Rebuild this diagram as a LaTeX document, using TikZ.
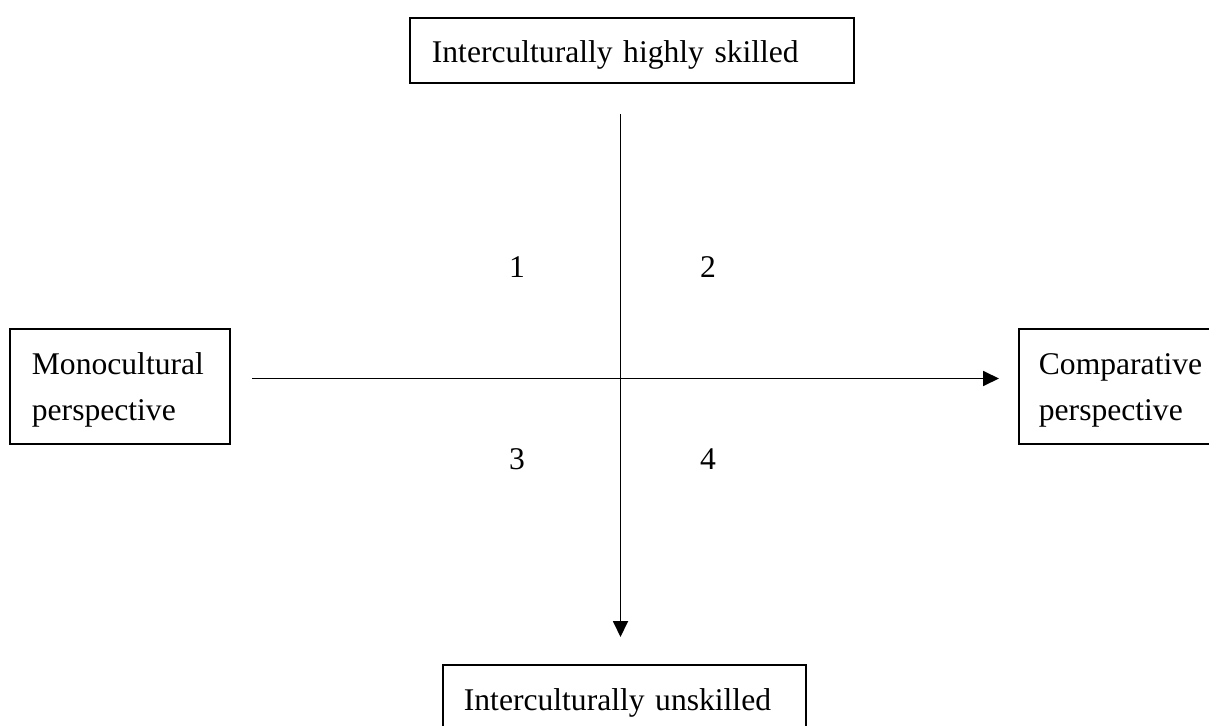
\documentclass[tikz,border=0pt]{standalone}
\usepackage{fontspec}
\setmainfont{Liberation Serif}
\usetikzlibrary{arrows.meta}
\begin{document}
\begin{tikzpicture}[x=1pt,y=-1pt,
  every node/.style={font=\fontsize{31.6}{46}\selectfont},
  onebox/.style={draw,line width=1.8pt,anchor=north west,inner ysep=0pt,align=left},
  twobox/.style={draw,line width=1.8pt,anchor=north west,align=left,minimum height=115pt},
  axis/.style={line width=1.8pt,-{Triangle[length=16pt,width=15pt]}},
  num/.style={anchor=base,inner sep=0pt}]
\useasboundingbox (0,0) rectangle (1209,725);
\clip (0,0) rectangle (1209,725);
\node[onebox,text width=400pt,inner xsep=22pt,text height=45pt,text depth=20pt] (top) at (409,17) {Interculturally highly skilled};
\node[onebox,text width=321pt,inner xsep=21pt,text height=46pt,text depth=19pt] (bottom) at (442,664) {Interculturally unskilled};
\node[twobox,text width=176pt,inner xsep=22pt] (left) at (9,328) {\rule{0pt}{29.6pt}Monocultural\\perspective};
\node[twobox,text width=170pt,inner xsep=20pt] (right) at (1018,328) {\rule{0pt}{29.6pt}Comparative\\perspective};
\coordinate (vtop) at (620.5,114);
\coordinate (vbot) at (620.5,637);
\coordinate (hleft) at (252,378.5);
\coordinate (hright) at (999,378.5);
\draw[axis] (vtop) -- (vbot);
\draw[axis] (hleft) -- (hright);
\node[num] (q1) at (517,277) {1};
\node[num] (q2) at (708,277) {2};
\node[num] (q3) at (517,469) {3};
\node[num] (q4) at (708,469) {4};
\end{tikzpicture}
\end{document}
